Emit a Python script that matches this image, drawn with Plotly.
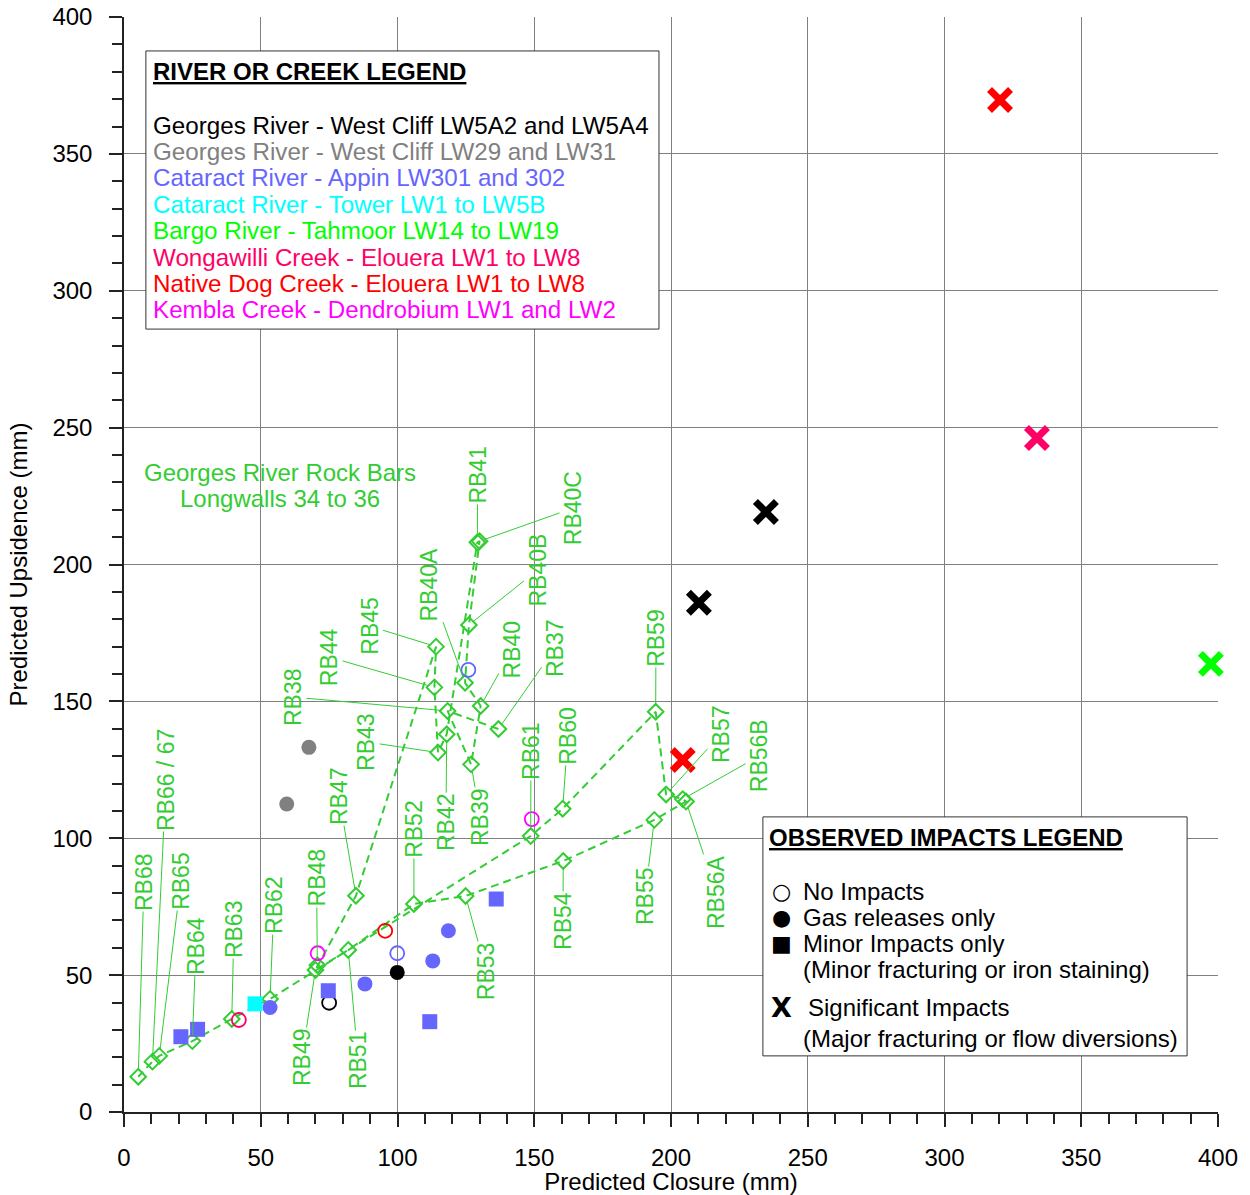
import plotly.graph_objects as go

# ---------------------------------------------------------------------------
# Georges River rock bars, Longwalls 34 to 36 (in order along the river)
# ---------------------------------------------------------------------------
rb_names = ["RB37", "RB38", "RB39", "RB40", "RB40A", "RB40B", "RB40C", "RB41",
            "RB42", "RB43", "RB44", "RB45", "RB47", "RB48", "RB49", "RB51",
            "RB52", "RB53", "RB54", "RB55", "RB56A", "RB56B", "RB57", "RB59",
            "RB60", "RB61", "RB62", "RB63", "RB64", "RB65", "RB66 / 67", "RB68"]
rb_closure = [136.9, 118.3, 126.9, 130.4, 124.7, 126.1, 130.0, 129.2,
              118.0, 114.8, 113.5, 114.1, 84.8, 70.7, 70.0, 82.0,
              106.0, 124.9, 160.6, 193.9, 205.5, 204.3, 198.2, 194.4,
              160.4, 148.7, 53.4, 39.4, 25.0, 12.9, 10.4, 5.2]
rb_upsidence = [139.9, 146.5, 127.0, 148.3, 156.8, 177.9, 208.5, 208.1,
                138.0, 131.3, 155.1, 170.0, 79.0, 53.6, 51.9, 59.2,
                76.0, 78.9, 91.7, 106.7, 113.4, 114.3, 116.0, 146.2,
                110.8, 100.8, 41.3, 34.0, 25.9, 20.5, 18.4, 12.9]

# ---------------------------------------------------------------------------
# Observed impacts at other rivers and creeks
# impact codes: none, gas, minor, significant
# ---------------------------------------------------------------------------
georges_5a_closure = [234.7, 210.2, 99.9, 75.0]
georges_5a_upsidence = [219.2, 186.0, 51.0, 39.9]
georges_5a_impact = ["significant", "significant", "gas", "none"]

georges_29_closure = [67.6, 59.5]
georges_29_upsidence = [133.2, 112.5]
georges_29_impact = ["gas", "gas"]

cataract_appin_closure = [125.9, 99.9, 53.4, 88.1, 112.9, 118.6, 20.8, 26.9, 74.7, 111.8, 136.1]
cataract_appin_upsidence = [161.5, 58.0, 38.2, 46.8, 55.2, 66.2, 27.5, 30.2, 44.3, 33.0, 77.8]
cataract_appin_impact = ["none", "none", "gas", "gas", "gas", "gas",
                         "minor", "minor", "minor", "minor", "minor"]

cataract_tower_closure = [47.9]
cataract_tower_upsidence = [39.5]
cataract_tower_impact = ["minor"]

bargo_closure = [397.4]
bargo_upsidence = [163.7]
bargo_impact = ["significant"]

wongawilli_closure = [333.8, 42.0]
wongawilli_upsidence = [246.2, 33.6]
wongawilli_impact = ["significant", "none"]

native_dog_closure = [320.3, 204.3, 95.5]
native_dog_upsidence = [369.7, 128.6, 66.2]
native_dog_impact = ["significant", "significant", "none"]

kembla_closure = [70.8, 149.1]
kembla_upsidence = [58.0, 107.0]
kembla_impact = ["none", "none"]

sites = [
    ("Georges River - West Cliff LW5A2 and LW5A4", "#000000",
     georges_5a_closure, georges_5a_upsidence, georges_5a_impact),
    ("Georges River - West Cliff LW29 and LW31", "#808080",
     georges_29_closure, georges_29_upsidence, georges_29_impact),
    ("Cataract River - Appin LW301 and 302", "#6666FF",
     cataract_appin_closure, cataract_appin_upsidence, cataract_appin_impact),
    ("Cataract River - Tower LW1 to LW5B", "#00FFFF",
     cataract_tower_closure, cataract_tower_upsidence, cataract_tower_impact),
    ("Bargo River - Tahmoor LW14 to LW19", "#00FF00",
     bargo_closure, bargo_upsidence, bargo_impact),
    ("Wongawilli Creek - Elouera LW1 to LW8", "#FF0066",
     wongawilli_closure, wongawilli_upsidence, wongawilli_impact),
    ("Native Dog Creek - Elouera LW1 to LW8", "#FF0000",
     native_dog_closure, native_dog_upsidence, native_dog_impact),
    ("Kembla Creek - Dendrobium LW1 and LW2", "#FF00FF",
     kembla_closure, kembla_upsidence, kembla_impact),
]

# ---------------------------------------------------------------------------
# Styling
# ---------------------------------------------------------------------------
FONT = "Liberation Sans, Arial, sans-serif"
RB_GREEN = "#33CC33"

impact_style = {
    "none": dict(symbol="circle-open", size=14, lw=1.8),
    "gas": dict(symbol="circle", size=15, lw=0),
    "minor": dict(symbol="square", size=15, lw=0),
    "significant": dict(symbol="x-thin", size=21, lw=7),
}

# label text centre for each rock bar (closure, upsidence)
label_pos = {
    "RB37": (157.6, 169.5), "RB38": (61.8, 151.6), "RB39": (130.2, 107.8),
    "RB40": (142.0, 169.1), "RB40A": (111.7, 192.5), "RB40B": (151.2, 198.0),
    "RB40C": (164.2, 220.6), "RB41": (129.3, 232.7), "RB42": (117.7, 105.9),
    "RB43": (88.5, 135.2), "RB44": (75.0, 166.2), "RB45": (89.8, 177.5),
    "RB47": (78.6, 115.4), "RB48": (70.4, 85.5), "RB49": (65.1, 20.1),
    "RB51": (85.6, 19.0), "RB52": (106.0, 103.4), "RB53": (132.4, 51.5),
    "RB54": (160.5, 69.8), "RB55": (190.5, 78.9), "RB56A": (216.5, 80.4),
    "RB56B": (232.2, 130.0), "RB57": (218.3, 138.1), "RB59": (194.5, 173.2),
    "RB60": (162.3, 137.4), "RB61": (148.8, 131.9), "RB62": (54.8, 75.6),
    "RB63": (40.2, 66.8), "RB64": (26.3, 60.6), "RB65": (20.8, 84.4),
    "RB66 / 67": (15.4, 121.3), "RB68": (7.3, 84.0),
}

fig = go.Figure()

# dashed path along the river through the rock bars
fig.add_trace(go.Scatter(
    x=rb_closure, y=rb_upsidence, mode="lines",
    line=dict(color=RB_GREEN, width=2, dash="8px,5px"),
    hoverinfo="skip", showlegend=False,
))
fig.add_trace(go.Scatter(
    x=rb_closure, y=rb_upsidence, mode="markers", text=rb_names,
    marker=dict(symbol="diamond-open", size=12, color=RB_GREEN,
                line=dict(color=RB_GREEN, width=2)),
    hovertemplate="%{text}<br>Closure %{x} mm<br>Upsidence %{y} mm<extra></extra>",
    showlegend=False,
))

# observed impacts, one trace per site and impact type
for name, colour, cx, uy, imp in sites:
    for kind in ["none", "gas", "minor", "significant"]:
        xs = [a for a, k in zip(cx, imp) if k == kind]
        ys = [b for b, k in zip(uy, imp) if k == kind]
        if not xs:
            continue
        st = impact_style[kind]
        fig.add_trace(go.Scatter(
            x=xs, y=ys, mode="markers", name=name,
            marker=dict(symbol=st["symbol"], size=st["size"], color=colour,
                        line=dict(color=colour, width=st["lw"])),
            cliponaxis=False, showlegend=False,
        ))

annotations = []

# rock bar labels with leader lines
for nm, px, py in zip(rb_names, rb_closure, rb_upsidence):
    lx, ly = label_pos[nm]
    annotations.append(dict(
        x=px, y=py, xref="x", yref="y", ax=lx, ay=ly, axref="x", ayref="y",
        text=nm, textangle=-90, showarrow=True, arrowhead=0, arrowwidth=1,
        arrowcolor=RB_GREEN, standoff=6, borderpad=0,
        font=dict(family=FONT, size=23, color=RB_GREEN),
    ))

# group caption
annotations.append(dict(x=57.0, y=233.5, xref="x", yref="y", showarrow=False,
                        text="Georges River Rock Bars",
                        font=dict(family=FONT, size=24, color=RB_GREEN)))
annotations.append(dict(x=57.0, y=224.0, xref="x", yref="y", showarrow=False,
                        text="Longwalls 34 to 36",
                        font=dict(family=FONT, size=24, color=RB_GREEN)))

# legend boxes
shapes = [
    dict(type="rect", xref="x", yref="y", x0=8.0, x1=195.6, y0=286.0, y1=387.6,
         line=dict(color="#333333", width=1), fillcolor="white", layer="above"),
    dict(type="rect", xref="x", yref="y", x0=233.6, x1=388.7, y0=20.5, y1=107.8,
         line=dict(color="#333333", width=1), fillcolor="white", layer="above"),
]

# river / creek legend
annotations.append(dict(x=9.9, y=380.0, xref="x", yref="y", xanchor="left",
                        showarrow=False, text="<b><u>RIVER OR CREEK LEGEND</u></b>",
                        font=dict(family=FONT, size=24, color="black")))
legend_rows_y = [360.4, 350.9, 341.4, 331.5, 322.0, 312.1, 302.6, 293.1]
for (name, colour, *_), yy in zip(sites, legend_rows_y):
    annotations.append(dict(x=9.9, y=yy, xref="x", yref="y", xanchor="left",
                            showarrow=False, text=name,
                            font=dict(family=FONT, size=24.2, color=colour)))

# observed impacts legend
annotations.append(dict(x=235.0, y=100.1, xref="x", yref="y", xanchor="left",
                        showarrow=False, text="<b><u>OBSERVED IMPACTS LEGEND</u></b>",
                        font=dict(family=FONT, size=24, color="black")))
impact_rows = [
    ("○", 22, 80.7, "No Impacts", 247.6),
    ("●", 22, 71.2, "Gas releases only", 247.6),
    ("■", 22, 61.7, "Minor Impacts only", 247.6),
    ("", 22, 51.9, "(Minor fracturing or iron staining)", 247.6),
    ("<b>X</b>", 27, 38.0, "Significant Impacts", 249.3),
    ("", 22, 27.0, "(Major fracturing or flow diversions)", 247.6),
]
for sym, sym_size, yy, txt, tx in impact_rows:
    if sym:
        annotations.append(dict(x=240.3, y=yy, xref="x", yref="y", showarrow=False,
                                text=sym,
                                font=dict(family="DejaVu Sans, " + FONT, size=sym_size,
                                          color="black")))
    annotations.append(dict(x=tx, y=yy, xref="x", yref="y", xanchor="left",
                            showarrow=False, text=txt,
                            font=dict(family=FONT, size=24, color="black")))

axis_common = dict(
    range=[0, 400], dtick=50, tick0=0,
    showgrid=True, gridcolor="#808080", gridwidth=1,
    zeroline=False, showline=True, linecolor="#222222", linewidth=1.5,
    ticks="outside", ticklen=13, tickwidth=1.5, tickcolor="#222222",
    minor=dict(dtick=10, ticks="outside", ticklen=10, tickwidth=1.5,
               tickcolor="#222222", showgrid=False),
    tickfont=dict(family=FONT, size=24, color="black"),
    automargin=False, fixedrange=True,
)

fig.update_layout(
    width=1250, height=1195,
    margin=dict(l=124, r=32, t=17, b=83),
    paper_bgcolor="white", plot_bgcolor="white",
    showlegend=False,
    xaxis=dict(axis_common, ticklabelstandoff=10,
               title=dict(text="Predicted Closure (mm)", standoff=0,
                          font=dict(family=FONT, size=24, color="black"))),
    yaxis=dict(axis_common, ticklabelstandoff=12,
               title=dict(text="Predicted Upsidence (mm)", standoff=18,
                          font=dict(family=FONT, size=24, color="black"))),
    shapes=shapes,
    annotations=annotations,
)

fig.write_html("out.html")
